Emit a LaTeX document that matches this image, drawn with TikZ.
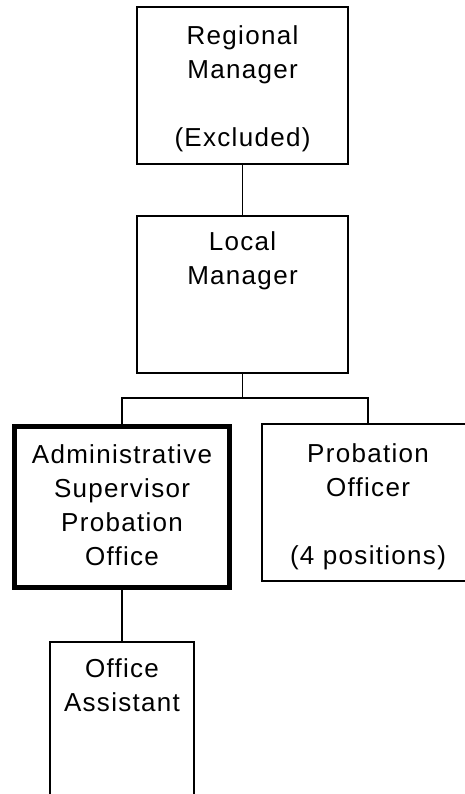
\documentclass[tikz,border=0pt]{standalone}
\usepackage{fontspec}
\newfontfamily\boxfont[LetterSpace=5]{Liberation Sans}
\usetikzlibrary{calc}
\begin{document}
\begin{tikzpicture}[x=1pt,y=1pt,
  box/.style={draw=black, line width=1.8pt, rectangle, inner sep=0pt},
  thickbox/.style={draw=black, line width=5pt, rectangle, inner sep=0pt},
  lbl/.style={anchor=north, align=center, inner sep=0pt, font=\boxfont\fontsize{26}{34}\selectfont},
  conn/.style={draw=black, line width=1.8pt}]
\useasboundingbox (0,0) rectangle (465,-794);
% boxes
\node[box, minimum width=211, minimum height=157] (r) at (242.5,-85.5) {};
\node[box, minimum width=211, minimum height=157] (l) at (242.5,-294.5) {};
\node[thickbox, minimum width=215, minimum height=161] (a) at (122,-507) {};
\node[box, minimum width=212, minimum height=157] (p) at (368,-502.5) {};
\node[box, minimum width=144, minimum height=200] (o) at (122,-742) {};
% texts
\node[lbl] (rt) at ($(r.north)+(0,-19.5)$) {Regional\\Manager\\[34pt](Excluded)};
\node[lbl] (lt) at ($(l.north)+(0,-16.5)$) {Local\\Manager};
\node[lbl] (at) at ($(a.north)+(0,-20.5)$) {Administrative\\Supervisor\\Probation\\Office};
\node[lbl] (pt) at ($(p.north)+(0,-20.5)$) {Probation\\Officer\\[34pt](4 positions)};
\node[lbl] (ot) at ($(o.north)+(0,-17.5)$) {Office\\Assistant};
% connectors
\coordinate (bus) at (242.5,-398);
\draw[conn] (r.south) -- (l.north);
\draw[conn] (l.south) -- (bus);
\draw[conn] (a.north) -- (a.north |- bus) -- (p.north |- bus) -- (p.north);
\draw[conn] (a.south) -- (o.north);
\end{tikzpicture}
\end{document}
